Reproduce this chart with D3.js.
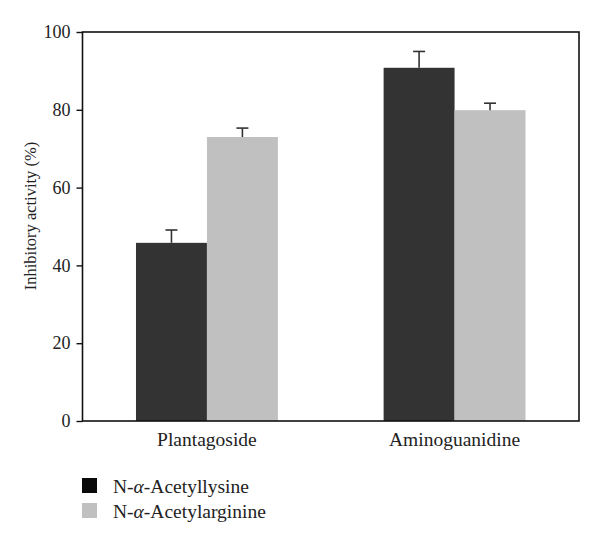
<!DOCTYPE html>
<html><head><meta charset="utf-8">
<script src="https://cdn.jsdelivr.net/npm/d3@7"></script>
<style>body{margin:0;background:#fff}svg{display:block}text{font-family:"Liberation Serif","DejaVu Serif",serif;fill:#222}</style>
</head><body>
<svg id="c" width="600" height="544"></svg>
<script>
const categories = ["Plantagoside", "Aminoguanidine"];
const seriesNames = ["N-α-Acetyllysine", "N-α-Acetylarginine"];
const lysine = [45.8, 90.8];
const lysineErr = [3.3, 4.2];
const arginine = [73.0, 79.9];
const arginineErr = [2.3, 1.8];
const yTicks = [0, 20, 40, 60, 80, 100];
const colors = ["#333333", "#c0c0c0"];
const legendColors = ["#0a0a0a", "#c0c0c0"];

const svg = d3.select("#c");
const L = 82.5, R = 579, T = 32, B = 421;
const x = d3.scaleBand().domain(categories).range([L, R]).paddingInner(0.427).paddingOuter(0.216);
const xs = d3.scaleBand().domain(seriesNames).range([0, x.bandwidth()]);
const y = d3.scaleLinear().domain([0, 100]).range([B, T]);

const data = [];
categories.forEach((c, i) => {
  data.push({c, s: seriesNames[0], v: lysine[i], e: lysineErr[i], k: 0});
  data.push({c, s: seriesNames[1], v: arginine[i], e: arginineErr[i], k: 1});
});

svg.append("g").selectAll("rect").data(data).join("rect")
  .attr("x", d => x(d.c) + xs(d.s))
  .attr("width", xs.bandwidth())
  .attr("y", d => y(d.v))
  .attr("height", d => y(0) - y(d.v))
  .attr("fill", d => colors[d.k]);

const eb = svg.append("g").attr("stroke", "#333").attr("stroke-width", 1.6);
data.forEach(d => {
  const cx = x(d.c) + xs(d.s) + xs.bandwidth() / 2;
  eb.append("line").attr("x1", cx).attr("x2", cx).attr("y1", y(d.v)).attr("y2", y(d.v + d.e));
  eb.append("line").attr("x1", cx - 6).attr("x2", cx + 6).attr("y1", y(d.v + d.e)).attr("y2", y(d.v + d.e));
});

// frame
svg.append("rect").attr("x", L).attr("y", T).attr("width", R - L).attr("height", B - T)
  .attr("fill", "none").attr("stroke", "#111").attr("stroke-width", 1.6);

const yAxis = svg.append("g").attr("transform", `translate(${L},0)`)
  .call(d3.axisLeft(y).tickValues(yTicks).tickSize(6).tickPadding(6).tickFormat(d3.format("d")));
yAxis.select(".domain").remove();
yAxis.selectAll("line").attr("stroke", "#111").attr("stroke-width", 1.4);
yAxis.selectAll("text").attr("font-size", 18).attr("font-family", '"Liberation Serif",serif').attr("fill", "#222");

const xAxis = svg.append("g").attr("transform", `translate(0,${B})`)
  .call(d3.axisBottom(x).tickSize(0).tickPadding(11));
xAxis.select(".domain").remove();
xAxis.selectAll("text").attr("font-size", 19.5).attr("font-family", '"Liberation Serif",serif').attr("fill", "#222");

svg.append("text").attr("transform", `translate(36,216) rotate(-90)`)
  .attr("text-anchor", "middle").attr("font-size", 16.5).text("Inhibitory activity (%)");

const lg = svg.append("g");
seriesNames.forEach((s, i) => {
  lg.append("rect").attr("x", 82).attr("y", 478 + i * 25).attr("width", 15).attr("height", 15).attr("fill", legendColors[i]);
  const t = lg.append("text").attr("x", 113).attr("y", 493 + i * 25).attr("font-size", 19.5);
  const parts = s.split("α");
  t.append("tspan").text(parts[0]);
  t.append("tspan").attr("font-style", "italic").text("α");
  t.append("tspan").text(parts[1]);
});
</script>
</body></html>
